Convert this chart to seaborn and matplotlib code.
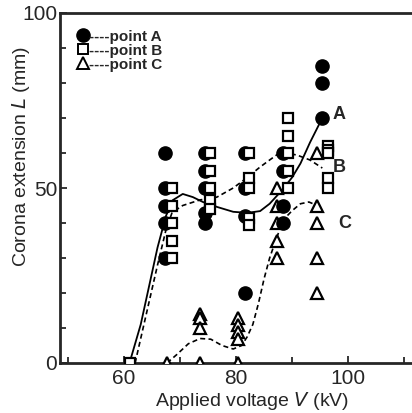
import seaborn as sns
import pandas as pd
import matplotlib.pyplot as plt
from matplotlib.lines import Line2D
from matplotlib.ticker import MultipleLocator

volt_a = [67.3] * 5 + [74.5] * 5 + [81.6] * 4 + [88.4] * 4 + [95.4] * 3
ext_a = [60, 50, 45, 40, 30,
         60, 55, 50, 43, 40,
         60, 50, 42, 20,
         60, 55, 45, 40,
         85, 80, 70]

volt_b = [61.0] + [68.6] * 5 + [75.4] * 5 + [82.4] * 5 + [89.3] * 5 + [96.4] * 5
ext_b = [0,
         50, 45, 40, 35, 30,
         60, 55, 50, 46.5, 44,
         60, 53, 50, 41.5, 39.5,
         70, 65, 60, 55, 50,
         62, 61, 60, 53, 50]

volt_c = [67.7] + [73.6] * 4 + [80.4] * 5 + [87.3] * 5 + [94.5] * 5
ext_c = [0,
         14, 13, 10, 0,
         13, 11, 9, 7, 0,
         50, 45, 40, 35, 30,
         60, 45, 40, 30, 20]

# fitted curves (traced)
curve_a_x = [61, 63, 64.5, 66, 67.5, 68.7, 70.5, 72.3, 74.1, 76.6, 79.5, 82, 84.3, 86, 88, 90, 91.5, 93.2, 95.4]
curve_a_y = [0, 11, 22, 33, 42, 46.5, 48.3, 47.4, 46, 44.6, 43.2, 42.9, 43.4, 45.5, 49, 53, 57, 63, 70]
curve_b_x = [62, 64, 66, 67.5, 68.6, 70.5, 73.6, 76.6, 79.5, 82, 84.3, 86, 88, 90.9, 93.2, 95.4]
curve_b_y = [0, 14, 28, 38, 43, 45, 46.6, 47.4, 50, 53, 56, 58, 60.3, 59.4, 58, 55.7]
curve_c_x = [67.7, 69.5, 71.5, 73.6, 75.5, 77.5, 79.5, 81, 82, 83, 84, 85, 86, 87.3, 88.5, 90, 91.5, 93, 94.5]
curve_c_y = [0, 2.5, 5.5, 7, 6.8, 5, 4, 5, 7.5, 11, 17, 24, 30, 36, 41, 43.5, 45.5, 46, 45]

sns.set_style('ticks')
plt.rcParams['font.family'] = ['Liberation Sans', 'DejaVu Sans']

fig = plt.figure(figsize=(4.12, 4.13), dpi=100)
ax = fig.add_axes([60 / 412, 50 / 413, 352 / 412, 350 / 413])

sns.lineplot(x=curve_a_x, y=curve_a_y, sort=False, color='black', lw=1.3, ax=ax)
sns.lineplot(x=curve_b_x, y=curve_b_y, sort=False, color='black', lw=1.2, ls=(0, (3, 2)), ax=ax)
sns.lineplot(x=curve_c_x, y=curve_c_y, sort=False, color='black', lw=1.2, ls=(0, (3, 2)), ax=ax)

ax.plot(volt_c, ext_c, ls='none', marker='^', ms=9, mfc='white', mec='black', mew=1.6, zorder=3)
ax.plot(volt_a, ext_a, ls='none', marker='o', ms=9.5, mfc='black', mec='black', zorder=4)
ax.plot(volt_b, ext_b, ls='none', marker='s', ms=7.5, mfc='white', mec='black', mew=1.6, zorder=5)

ax.text(97.3, 71, 'A', fontsize=13, fontweight='bold', va='center')
ax.text(97.3, 56, 'B', fontsize=13, fontweight='bold', va='center')
ax.text(98.2, 40, 'C', fontsize=13, fontweight='bold', va='center')

ax.set_xlim(48.6, 111.4)
ax.set_ylim(0, 100)
ax.xaxis.set_minor_locator(MultipleLocator(10))
ax.yaxis.set_major_locator(MultipleLocator(50))
ax.yaxis.set_minor_locator(MultipleLocator(10))
ax.set_xticks([60, 80, 100])
ax.tick_params(which='both', direction='in', width=1.3, labelsize=15, pad=2)
ax.tick_params(which='major', length=5)
ax.tick_params(which='minor', length=4)
ax.tick_params(axis='x', pad=4)

for s in ['left', 'bottom', 'top']:
    ax.spines[s].set_linewidth(2)
ax.spines['right'].set_visible(False)

ax.set_xlabel('Applied voltage $\\mathit{V}$ (kV)', fontsize=14)
ax.set_ylabel('Corona extension $\\mathit{L}$ (mm)', fontsize=14)
ax.xaxis.set_label_coords(0.545, -0.078)
ax.yaxis.set_label_coords(-0.08, 0.59)

handles = [
    Line2D([], [], ls='none', marker='o', ms=9.5, mfc='black', mec='black'),
    Line2D([], [], ls='none', marker='s', ms=7.5, mfc='white', mec='black', mew=1.4),
    Line2D([], [], ls='none', marker='^', ms=9, mfc='white', mec='black', mew=1.4),
]
leg = ax.legend(handles, ['----point A', '----point B', '----point C'],
                loc='upper left', bbox_to_anchor=(0.03, 0.97), frameon=False,
                handlelength=0.8, handletextpad=0.0, labelspacing=0.0,
                borderaxespad=0, prop={'weight': 'bold', 'size': 11})

fig.savefig('out.png', dpi=100)
